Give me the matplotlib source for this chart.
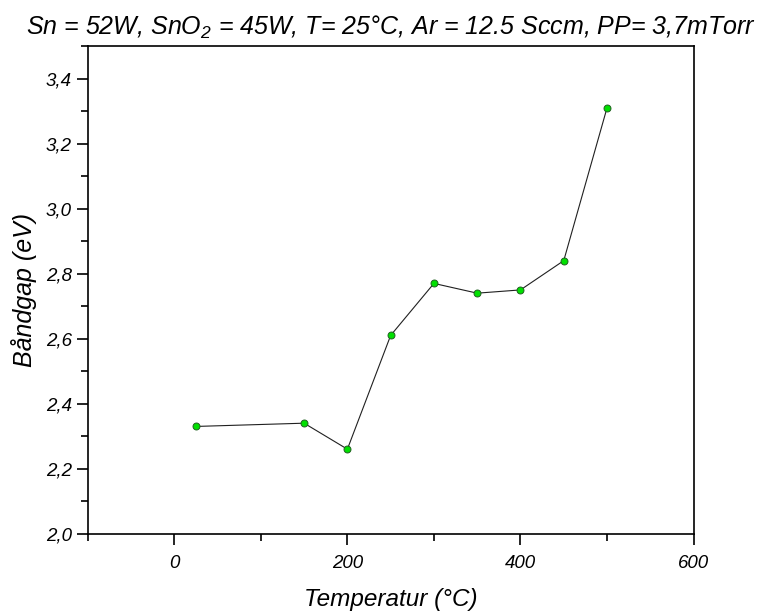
import matplotlib
matplotlib.use("Agg")
import matplotlib.pyplot as plt
from matplotlib.ticker import MultipleLocator, FuncFormatter

plt.rcParams['font.family'] = ['Liberation Sans', 'DejaVu Sans']
plt.rcParams['font.style'] = 'italic'
plt.rcParams['mathtext.fontset'] = 'custom'
plt.rcParams['mathtext.rm'] = 'Liberation Sans:italic'
plt.rcParams['mathtext.it'] = 'Liberation Sans:italic'

# data
temperatur = [25, 150, 200, 250, 300, 350, 400, 450, 500]
bandgap = [2.33, 2.34, 2.26, 2.61, 2.77, 2.74, 2.75, 2.84, 3.31]

fig = plt.figure(figsize=(7.63, 6.11), dpi=100)
ax = fig.add_axes([0.115, 0.1265, 0.794, 0.798])

ax.plot(temperatur, bandgap, color='#202020', linewidth=0.8, marker='o',
        markersize=5, markerfacecolor='#00e000', markeredgecolor='#206020',
        markeredgewidth=0.7)

ax.set_xlim(-100, 600)
ax.set_ylim(2.0, 3.5)
ax.xaxis.set_major_locator(MultipleLocator(200))
ax.xaxis.set_minor_locator(MultipleLocator(100))
ax.yaxis.set_major_locator(MultipleLocator(0.2))
ax.yaxis.set_minor_locator(MultipleLocator(0.1))
ax.yaxis.set_major_formatter(FuncFormatter(lambda v, p: ('%.1f' % v).replace('.', ',')))

ax.tick_params(which='major', direction='out', length=8, width=1.2, labelsize=13.5)
ax.tick_params(which='minor', direction='out', length=5, width=1.2)
ax.tick_params(axis='x', pad=7)
ax.tick_params(top=False, right=False)
for s in ax.spines.values():
    s.set_linewidth(1.2)

ax.set_xlabel('Temperatur (°C)', fontsize=17.5, labelpad=12)
ax.set_ylabel('Båndgap (eV)', fontsize=18, labelpad=6)
ax.set_title('Sn = 52W, SnO$_2$ = 45W, T= 25°C, Ar = 12.5 Sccm, PP= 3,7mTorr',
             fontsize=18, pad=8)

fig.savefig('out.png', dpi=100, facecolor='white')
